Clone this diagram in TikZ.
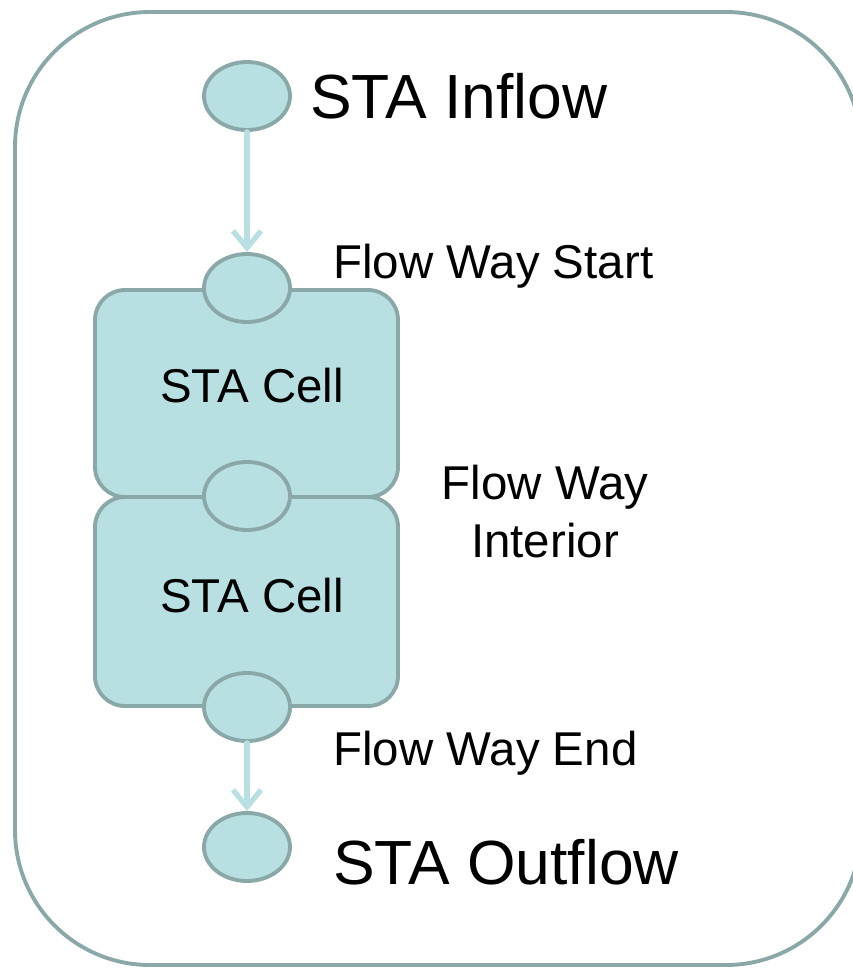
\documentclass[tikz,border=0pt]{standalone}
\usepackage{fontspec}
\setmainfont{Liberation Sans}
\usetikzlibrary{shapes.geometric,arrows.meta}
\definecolor{rim}{RGB}{138,168,168}
\definecolor{pond}{RGB}{184,223,226}
\newcommand{\bigtxt}{\fontsize{35.5}{42}\selectfont}
\newcommand{\smalltxt}{\fontsize{27}{32.9}\selectfont}
\begin{document}
\begin{tikzpicture}[scale=0.2]
		\tikzstyle{every node}+=[inner sep=0pt]
		\tikzstyle{port}=[ellipse, draw=rim, fill=pond, line width=2.2pt, minimum width=1.72cm, minimum height=1.36cm]
		\tikzstyle{cell}=[rectangle, rounded corners=0.6cm, draw=rim, fill=pond, line width=2.2pt, minimum width=6.06cm]
		\tikzstyle{flow}=[pond, line width=3pt, line cap=round, line join=round, -{Straight Barb[length=0.34cm, width=0.56cm]}]
		\useasboundingbox (0,0) rectangle (85.3,-96.8);
		\clip (0,0) rectangle (85.3,-96.8);
		\draw [rim, line width=2.2pt, rounded corners=2.7cm] (1.5,-1.2) rectangle (86.1,-96.5);
		\node [cell, minimum height=4.14cm] (cell1) at (24.65,-39.35) {};
		\node [cell, minimum height=4.18cm] (cell2) at (24.65,-60.15) {};
		\node [port] (inflow) at (24.7,-9.6) {};
		\node [port] (fwstart) at (24.7,-28.8) {};
		\node [port] (fwinterior) at (24.7,-49.6) {};
		\node [port] (fwend) at (24.7,-70.7) {};
		\node [port] (outflow) at (24.7,-84.7) {};
		\draw [flow] (inflow) -- (fwstart);
		\draw [flow] (fwend) -- (outflow);
		\node [anchor=base west, font=\bigtxt] (inflowtxt) at (31.0,-11.8) {STA Inflow};
		\node [anchor=base west, font=\bigtxt] (outflowtxt) at (33.3,-88.4) {STA Outflow};
		\node [anchor=base west, font=\smalltxt] (starttxt) at (33.3,-27.8) {Flow Way Start};
		\node [anchor=base west, font=\smalltxt] (endtxt) at (33.3,-76.5) {Flow Way End};
		\node [anchor=base, align=center, font=\smalltxt] (interiortxt) at (54.5,-55.7) {Flow Way\\Interior};
		\node [anchor=base, font=\smalltxt] (cell1txt) at (25.2,-40.2) {STA Cell};
		\node [anchor=base, font=\smalltxt] (cell2txt) at (25.2,-61.2) {STA Cell};
	\end{tikzpicture}
\end{document}
